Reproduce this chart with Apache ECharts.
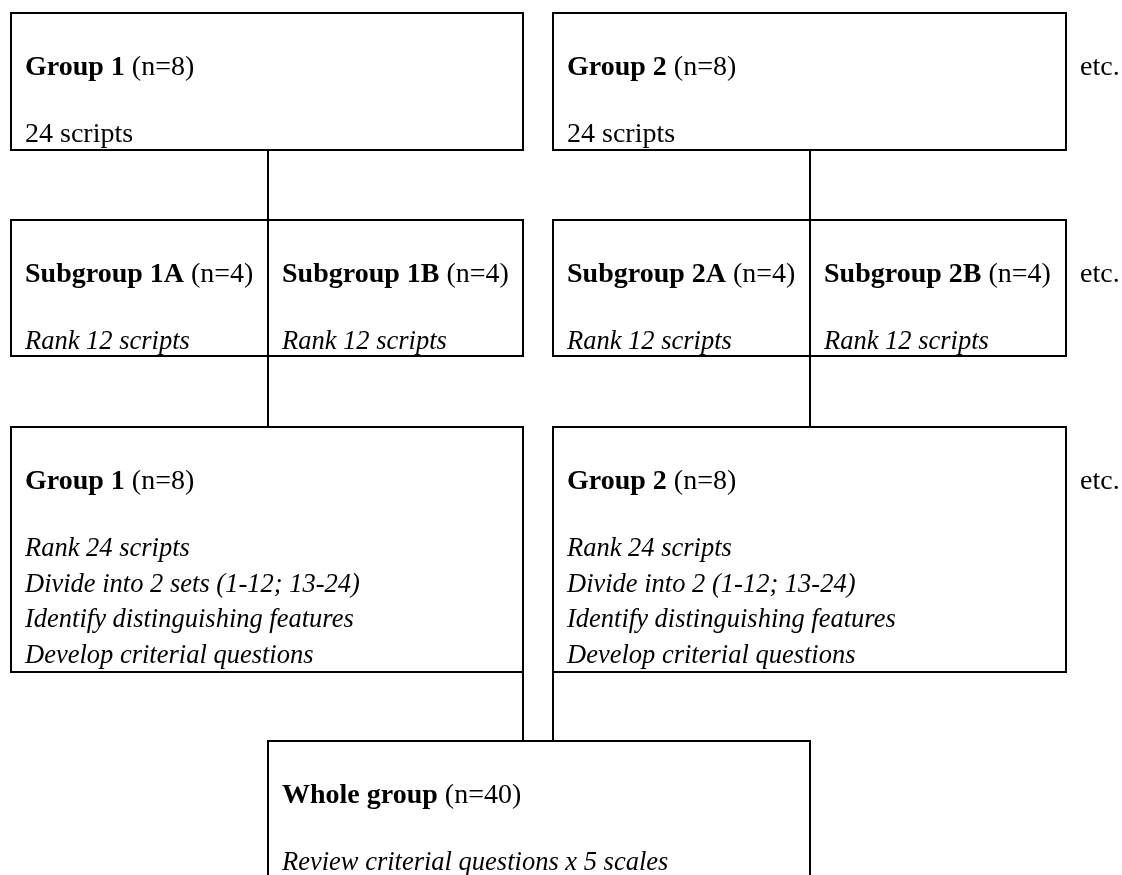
<!DOCTYPE html>
<html>
<head>
<meta charset="utf-8">
<script src="https://cdn.jsdelivr.net/npm/echarts@6/dist/echarts.min.js"></script>
<style>
  html, body { margin: 0; padding: 0; background: #fff; }
  #chart { width: 1122px; height: 875px; }
</style>
</head>
<body>
<div id="chart"></div>
<script>
// ---------------- content (data) ----------------
const groupNames = ['Group 1', 'Group 2'];
const groupSizes = [8, 8];
const stage1Tasks = [['24 scripts'], ['24 scripts']];
const subgroupNames = [['Subgroup 1A', 'Subgroup 1B'], ['Subgroup 2A', 'Subgroup 2B']];
const subgroupSizes = [[4, 4], [4, 4]];
const stage2Tasks = [['Rank 12 scripts'], ['Rank 12 scripts']];
const stage3Tasks = [
  ['Rank 24 scripts', 'Divide into 2 sets (1-12; 13-24)', 'Identify distinguishing features', 'Develop criterial questions'],
  ['Rank 24 scripts', 'Divide into 2 (1-12; 13-24)', 'Identify distinguishing features', 'Develop criterial questions']
];
const wholeGroupName = 'Whole group';
const wholeGroupSize = 40;
const wholeGroupTasks = ['Review criterial questions x 5 scales'];
const moreLabel = 'etc.';

// ---------------- layout (positions / styles) ----------------
const W = 1122, H = 875;
const colLeft = [11, 553];
const colMid = [268, 810];
const colRight = [523, 1066];
const rowTop = [13, 220, 427, 741];
const rowBottom = [150, 356, 672, 905];
const titleBaseOff = 64;     // from top of box to title baseline
const firstTaskOff = 131;    // from top of box to first task baseline
const taskStep = 35.5;
const padX = 14;
const etcX = 1080;
const FONT = '"Liberation Serif", "Times New Roman", serif';
const FS = 28, FS_IT = 26.5;
const MID = 0.3375;          // alphabetic baseline -> canvas middle, in em

// build nodes
const nodes = [];
for (let g = 0; g < 2; g++) {
  nodes.push({ box: [colLeft[g], rowTop[0], colRight[g], rowBottom[0]],
    name: groupNames[g], n: groupSizes[g], tasks: stage1Tasks[g], italic: false });
  for (let s = 0; s < 2; s++) {
    const x0 = s === 0 ? colLeft[g] : colMid[g];
    const x1 = s === 0 ? colMid[g] : colRight[g];
    nodes.push({ box: [x0, rowTop[1], x1, rowBottom[1]],
      name: subgroupNames[g][s], n: subgroupSizes[g][s], tasks: stage2Tasks[g], italic: true });
  }
  nodes.push({ box: [colLeft[g], rowTop[2], colRight[g], rowBottom[2]],
    name: groupNames[g], n: groupSizes[g], tasks: stage3Tasks[g], italic: true });
}
nodes.push({ box: [colMid[0], rowTop[3], colMid[1], rowBottom[3]],
  name: wholeGroupName, n: wholeGroupSize, tasks: wholeGroupTasks, italic: true });

// connectors [x, y0, y1]
const links = [];
for (let g = 0; g < 2; g++) {
  links.push([colMid[g], rowBottom[0], rowTop[1]]);
  links.push([colMid[g], rowBottom[1], rowTop[2]]);
}
links.push([colRight[0], rowBottom[2], rowTop[3]]);
links.push([colLeft[1], rowBottom[2], rowTop[3]]);

const etcRows = [0, 1, 2];

function renderBox(params, api) {
  const node = nodes[params.dataIndex];
  const p0 = api.coord([api.value(0), api.value(1)]);
  const p1 = api.coord([api.value(2), api.value(3)]);
  const children = [{
    type: 'rect',
    shape: { x: p0[0], y: p0[1], width: p1[0] - p0[0], height: p1[1] - p0[1] },
    style: { fill: 'none', stroke: '#000', lineWidth: 2 }
  }];
  const tx = p0[0] + padX;
  const titleBase = api.coord([0, api.value(1) + titleBaseOff])[1];
  children.push({
    type: 'text',
    x: tx, y: titleBase - MID * FS,
    style: {
      text: '{b|' + node.name + '}{r| (n=' + node.n + ')}',
      rich: {
        b: { fontFamily: FONT, fontSize: FS, fontWeight: 'bold', fill: '#000', lineHeight: FS },
        r: { fontFamily: FONT, fontSize: FS, fontWeight: 'normal', fill: '#000', lineHeight: FS }
      },
      align: 'left', verticalAlign: 'middle'
    }
  });
  const fs = node.italic ? FS_IT : FS;
  node.tasks.forEach(function (t, k) {
    const base = api.coord([0, api.value(1) + firstTaskOff + k * taskStep])[1];
    children.push({
      type: 'text',
      x: tx, y: base - MID * fs,
      style: {
        text: t, fontFamily: FONT, fontSize: fs,
        fontStyle: node.italic ? 'italic' : 'normal',
        fill: '#000', align: 'left', verticalAlign: 'middle'
      }
    });
  });
  return { type: 'group', children: children };
}

function renderLink(params, api) {
  const a = api.coord([api.value(0), api.value(1)]);
  const b = api.coord([api.value(0), api.value(2)]);
  return {
    type: 'line',
    shape: { x1: a[0], y1: a[1], x2: b[0], y2: b[1] },
    style: { stroke: '#000', lineWidth: 2 }
  };
}

function renderEtc(params, api) {
  const r = api.value(0);
  const p = api.coord([etcX, rowTop[r] + titleBaseOff]);
  return {
    type: 'text', x: p[0], y: p[1] - MID * FS,
    style: { text: moreLabel, fontFamily: FONT, fontSize: FS, fill: '#000',
      align: 'left', verticalAlign: 'middle' }
  };
}

const chart = echarts.init(document.getElementById('chart'), null, { renderer: 'canvas' });
chart.setOption({
  animation: false,
  backgroundColor: '#fff',
  grid: { left: 0, right: 0, top: 0, bottom: 0 },
  xAxis: { type: 'value', min: 0, max: W, show: false },
  yAxis: { type: 'value', min: 0, max: H, inverse: true, show: false },
  series: [
    { type: 'custom', clip: false, silent: true, renderItem: renderBox,
      encode: { x: [0, 2], y: [1, 3] },
      data: nodes.map(function (n) { return n.box; }) },
    { type: 'custom', clip: false, silent: true, renderItem: renderLink,
      encode: { x: 0, y: [1, 2] }, data: links },
    { type: 'custom', clip: false, silent: true, renderItem: renderEtc,
      encode: { y: 0 }, data: etcRows.map(function (r) { return [r]; }) }
  ]
});
</script>
</body>
</html>
